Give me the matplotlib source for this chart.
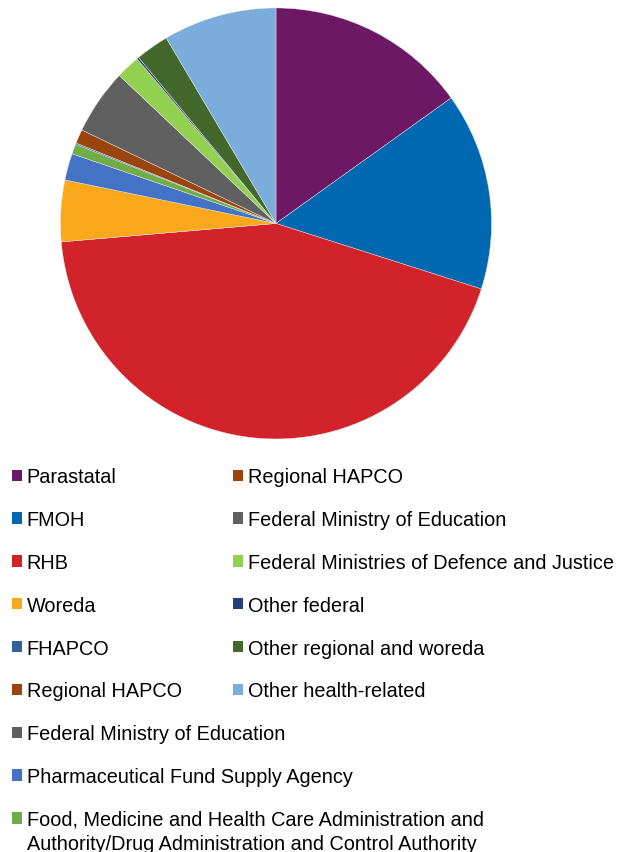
import matplotlib
matplotlib.use('Agg')
import matplotlib.pyplot as plt
from matplotlib.patches import Patch

plt.rcParams['font.family'] = ['Liberation Sans', 'DejaVu Sans']

# slices in pie order (clockwise from top)
slice_names = ['Parastatal', 'FMOH', 'RHB', 'Woreda', 'Pharmaceutical Fund Supply Agency',
               'Food, Medicine and Health Care Administration', 'FHAPCO', 'Regional HAPCO',
               'Federal Ministry of Education', 'Federal Ministries of Defence and Justice',
               'Other federal', 'Other regional and woreda', 'Other health-related']
slice_values = [15.1, 14.8, 43.7, 4.6, 2.0, 0.75, 0.1, 1.05, 4.9, 1.8, 0.15, 2.5, 8.5]
slice_colors = ['#6D1865', '#0067B1', '#D2232A', '#F9A91B', '#4472C4', '#70AD47', '#2E6399',
                '#9B440E', '#606060', '#92D050', '#253F7A', '#43682B', '#7AADDC']

col = dict(zip(slice_names, slice_colors))

legend_left = ['Parastatal', 'FMOH', 'RHB', 'Woreda', 'FHAPCO', 'Regional HAPCO',
               'Federal Ministry of Education', 'Pharmaceutical Fund Supply Agency',
               'Food, Medicine and Health Care Administration']
legend_right = ['Regional HAPCO', 'Federal Ministry of Education',
                'Federal Ministries of Defence and Justice', 'Other federal',
                'Other regional and woreda', 'Other health-related']
food_line1 = 'Food, Medicine and Health Care Administration and'
food_line2 = 'Authority/Drug Administration and Control Authority'
label_fix = {'Food, Medicine and Health Care Administration': food_line1}

FS = 14.3

fig = plt.figure(figsize=(6.18, 8.53), dpi=100)
ax = fig.add_axes([0.0979, 0.4842, 0.6974, 0.5053])
ax.pie(slice_values, colors=slice_colors, startangle=90, counterclock=False,
       wedgeprops=dict(edgecolor='#e8e8e8', linewidth=0.3))
ax.set_xlim(-1, 1)
ax.set_ylim(-1, 1)
ax.set_aspect('equal')

def make_legend(names, x, y):
    handles = [Patch(facecolor=col[n], edgecolor='none') for n in names]
    labels = [label_fix.get(n, n) for n in names]
    lg = fig.legend(handles, labels, loc='upper left', bbox_to_anchor=(x, y),
                    frameon=False, fontsize=FS, handlelength=0.5, handleheight=0.5,
                    handletextpad=0.25, labelspacing=1.2, borderaxespad=0, borderpad=0)
    return lg

lg_left = make_legend(legend_left, 0.019, 0.451)
make_legend(legend_right, 0.377, 0.451)

# second line of the long label, under the first one
fig.canvas.draw()
bb = lg_left.get_texts()[-1].get_window_extent()
x0, y0 = fig.transFigure.inverted().transform((bb.x0, bb.y0 - 24))
fig.text(x0, y0, food_line2, fontsize=FS, ha='left', va='bottom')

fig.savefig('out.png', dpi=100)
